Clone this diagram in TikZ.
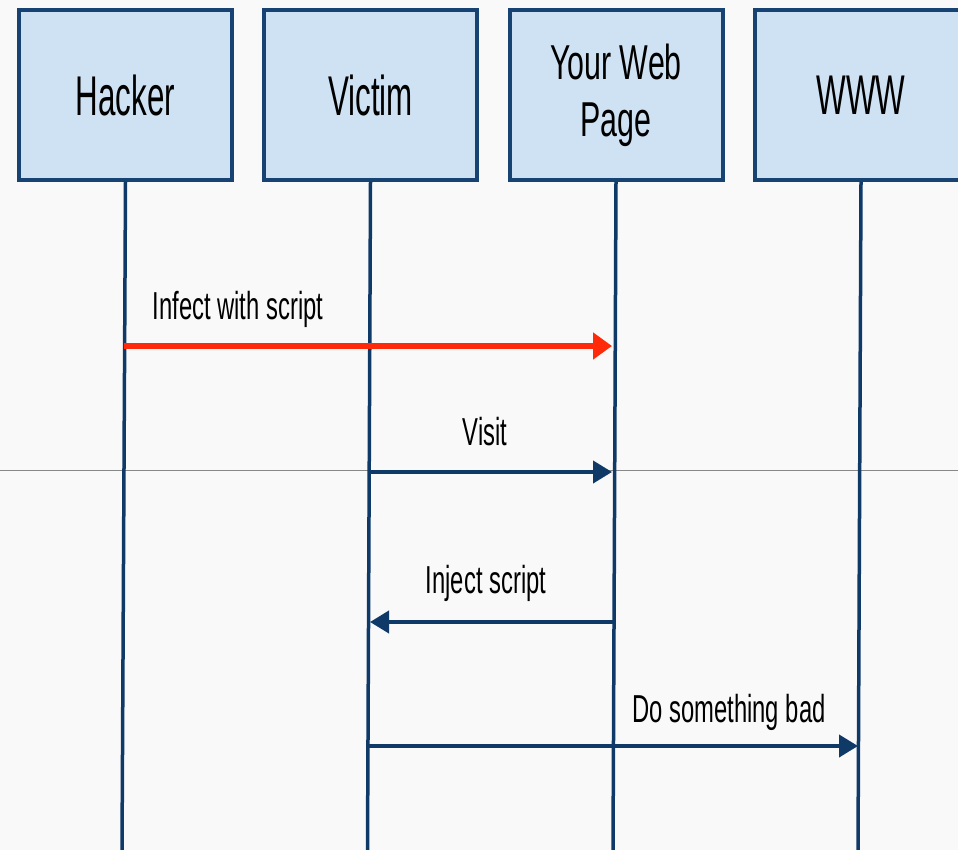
\documentclass[tikz,border=0pt]{standalone}
\usepackage{fontspec}
\setmainfont{Liberation Sans}
\newfontfamily\headfont[FakeStretch=0.56]{Liberation Sans}
\newfontfamily\webfont[FakeStretch=0.62]{Liberation Sans}
\newfontfamily\msgfont[FakeStretch=0.61]{Liberation Sans}
\usetikzlibrary{arrows.meta}
\definecolor{bgcol}{HTML}{F9F9F9}
\definecolor{boxfill}{HTML}{CFE2F3}
\definecolor{boxline}{HTML}{174372}
\definecolor{navy}{HTML}{0F3A68}
\definecolor{redmsg}{HTML}{FF2A0A}
\definecolor{rule}{HTML}{888888}
\tikzset{
  actor/.style={draw=boxline, line width=4pt, fill=boxfill,
    minimum width=213pt, minimum height=170pt, inner sep=0pt,
    font=\headfont\fontsize{56}{60}\selectfont, text=black},
  lifeline/.style={draw=navy, line width=3.5pt},
  msg/.style={draw=navy, line width=4pt,
    -{Triangle[length=19pt,width=22pt]}},
  attack/.style={draw=redmsg, line width=6pt,
    -{Triangle[length=19pt,width=26pt]}},
  msglabel/.style={anchor=base, inner sep=0pt,
    font=\msgfont\fontsize{39}{42}\selectfont, text=black}
}
\begin{document}
\begin{tikzpicture}[x=1pt,y=-1pt]
  \useasboundingbox (0,0) rectangle (958,850);
  \clip (0,0) rectangle (958,850);
  \fill[bgcol] (0,0) rectangle (958,850);
  % thin horizontal rule across the sheet
  \draw[rule, line width=1.5pt] (0,470.5) -- (958,470.5);

  % participants
  \node[actor] (hacker) at (125.5,95) {Hacker};
  \node[actor] (victim) at (370.5,95) {Victim};
  \node[actor, align=center,
        font=\webfont\fontsize{49}{57}\selectfont] (web) at (616,95) {Your Web\\Page};
  \node[actor] (www) at (861,95) {WWW};

  % lifeline ends (slightly leaning)
  \coordinate (hackerEnd) at (122,850);
  \coordinate (victimEnd) at (367.5,850);
  \coordinate (webEnd) at (613,850);
  \coordinate (wwwEnd) at (858,850);

  % points where messages meet the lifelines
  \coordinate (h1) at (124,346);
  \coordinate (w1) at (612,346);
  \coordinate (v2) at (369.5,472);
  \coordinate (w2) at (612,472);
  \coordinate (w3) at (614.5,622);
  \coordinate (v3) at (370,622);
  \coordinate (v4) at (368.5,746);
  \coordinate (x4) at (858,746);

  % lifelines
  \draw[lifeline] (hacker.south) -- (hackerEnd);
  \draw[lifeline] (victim.south) -- (victimEnd);
  \draw[lifeline] (web.south) -- (webEnd);
  \draw[lifeline] (www.south) -- (wwwEnd);

  % messages
  \draw[attack] (h1) -- (w1);
  \node[msglabel] (l1) at (238,319) {Infect with script};

  \draw[msg] (v2) -- (w2);
  \node[msglabel] (l2) at (485,445) {Visit};

  \draw[msg] (w3) -- (v3);
  \node[msglabel] (l3) at (486,593) {Inject script};

  \draw[msg] (v4) -- (x4);
  \node[msglabel] (l4) at (729,722) {Do something bad};
\end{tikzpicture}
\end{document}
